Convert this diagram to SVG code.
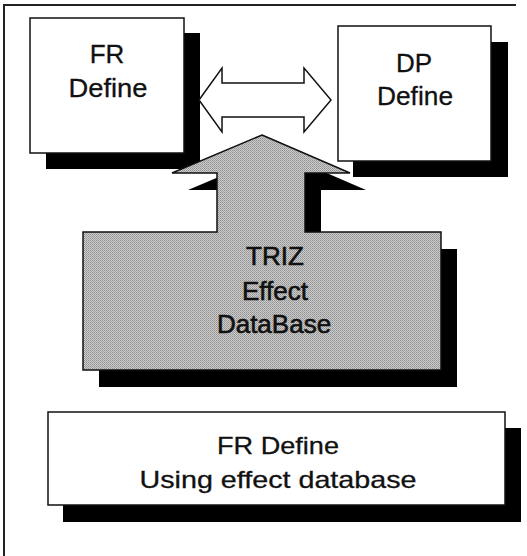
<svg xmlns="http://www.w3.org/2000/svg" width="527" height="556" viewBox="0 0 527 556">
  <style>
    .box { fill: #ffffff; stroke: #111111; stroke-width: 1.5; }
    .shadow { fill: #000000; }
    .db { stroke: #111111; stroke-width: 1.5; stroke-linejoin: miter; }
    .link { fill: #ffffff; stroke: #111111; stroke-width: 1.5; stroke-linejoin: miter; }
    .frame { stroke: #222222; stroke-width: 2; fill: none; }
    text { font-family: "Liberation Sans", Arial, sans-serif; fill: #111111; text-anchor: middle; stroke: #111111; stroke-width: 0.3; }
    .lbl { font-size: 26px; }
    .lbl-sm { font-size: 24px; }
    .on-grey { stroke-width: 0.6; }
  </style>
  <defs>
    <pattern id="dither" width="2" height="2" patternUnits="userSpaceOnUse">
      <rect width="2" height="2" fill="#cccccc"/>
      <rect width="1" height="1" fill="#909090"/>
      <rect x="1" y="1" width="1" height="1" fill="#a2a2a2"/>
    </pattern>
  </defs>

  <rect width="527" height="556" fill="#ffffff"/>

  <!-- page border (top and left edges) -->
  <g id="frame">
    <path class="frame" d="M4,556 V5 H516"/>
  </g>

  <!-- FR Define -->
  <g id="node-fr">
    <rect class="shadow" x="46" y="33" width="154" height="136"/>
    <rect class="box" x="30" y="18" width="154" height="135"/>
    <text class="lbl" x="107" y="63">FR</text>
    <text class="lbl" x="108" y="97" textLength="79" lengthAdjust="spacingAndGlyphs">Define</text>
  </g>

  <!-- DP Define -->
  <g id="node-dp">
    <rect class="shadow" x="353" y="42" width="155" height="135"/>
    <rect class="box" x="338" y="26" width="153" height="135"/>
    <text class="lbl" x="414" y="72">DP</text>
    <text class="lbl" x="415" y="105" textLength="76" lengthAdjust="spacingAndGlyphs">Define</text>
  </g>

  <!-- FR <-> DP link -->
  <g id="connectors">
    <path class="link" d="M199,100 L222,68 V83 H304 V68 L331,100 L304,132 V117 H222 V132 Z"/>
  </g>

  <!-- TRIZ Effect DataBase (arrow-shaped block) -->
  <g id="node-triz">
    <path class="shadow" d="M278,152 L366,190 H321 V249 H457 V387 H99 V249 H233 V190 H188 Z"/>
    <path class="db" fill="url(#dither)" d="M262,135 L350,173 H305 V232 H441 V370 H83 V232 H217 V173 H172 Z"/>
    <text class="lbl on-grey" x="275" y="265">TRIZ</text>
    <text class="lbl on-grey" x="275" y="300">Effect</text>
    <text class="lbl on-grey" x="274" y="333">DataBase</text>
  </g>

  <!-- FR Define using effect database -->
  <g id="node-usage">
    <rect class="shadow" x="63" y="428" width="458" height="94"/>
    <rect class="box" x="48" y="412" width="457" height="93"/>
    <text class="lbl-sm" x="278" y="454" textLength="122" lengthAdjust="spacingAndGlyphs">FR Define</text>
    <text class="lbl-sm" x="278" y="488" textLength="277" lengthAdjust="spacingAndGlyphs">Using effect database</text>
  </g>
</svg>
